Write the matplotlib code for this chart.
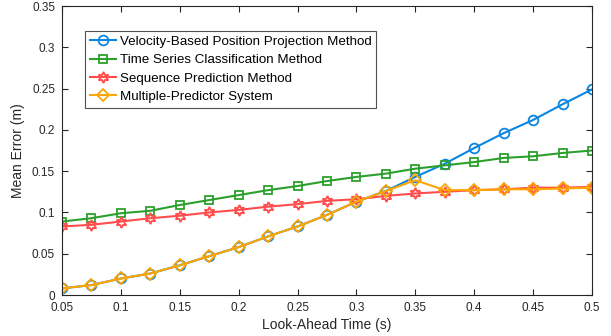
import matplotlib
matplotlib.use("Agg")
import matplotlib.pyplot as plt
import numpy as np

plt.rcParams['font.family'] = ['Liberation Sans', 'DejaVu Sans']

look_ahead = [0.05, 0.075, 0.1, 0.125, 0.15, 0.175, 0.2, 0.225, 0.25, 0.275,
              0.3, 0.325, 0.35, 0.375, 0.4, 0.425, 0.45, 0.475, 0.5]

velocity = [0.008, 0.012, 0.020, 0.026, 0.036, 0.047, 0.058, 0.071, 0.083, 0.097,
            0.113, 0.126, 0.143, 0.159, 0.178, 0.196, 0.212, 0.231, 0.249]
time_series = [0.089, 0.093, 0.099, 0.102, 0.109, 0.115, 0.121, 0.127, 0.132, 0.138,
               0.143, 0.147, 0.153, 0.157, 0.161, 0.166, 0.168, 0.172, 0.175]
sequence = [0.083, 0.085, 0.089, 0.093, 0.096, 0.100, 0.103, 0.107, 0.110, 0.114,
            0.116, 0.120, 0.123, 0.125, 0.127, 0.128, 0.130, 0.130, 0.131]
multi = [0.008, 0.012, 0.020, 0.026, 0.036, 0.047, 0.058, 0.071, 0.083, 0.097,
         0.113, 0.126, 0.139, 0.127, 0.127, 0.128, 0.128, 0.129, 0.130]

labels = ["Velocity-Based Position Projection Method",
          "Time Series Classification Method",
          "Sequence Prediction Method",
          "Multiple-Predictor System"]

fig = plt.figure(figsize=(6.11, 3.36), dpi=100)
L, R, T, B = 62, 592, 6, 295
ax = fig.add_axes([L/611, 1-B/336, (R-L)/611, (B-T)/336])

ax.plot(look_ahead, velocity, color='#0b86e0', lw=1.5, marker='o', ms=7,
        mfc='none', mew=1.3, label=labels[0])
ax.plot(look_ahead, time_series, color='#2ca02c', lw=1.5, marker='s', ms=6,
        mfc='none', mew=1.3, label=labels[1])
ax.plot(look_ahead, sequence, color='#ff4d4d', lw=1.5, marker=(6, 1, 0), ms=8,
        mfc='none', mew=1.3, label=labels[2])
ax.plot(look_ahead, multi, color='#ffa500', lw=1.5, marker='D', ms=6,
        mfc='none', mew=1.3, label=labels[3])

ax.set_xlim(0.05, 0.5)
ax.set_ylim(0, 0.35)
ax.set_xticks(np.arange(0.05, 0.501, 0.05))
ax.set_xticklabels(['0.05', '0.1', '0.15', '0.2', '0.25', '0.3', '0.35', '0.4', '0.45', '0.5'])
ax.set_yticks(np.arange(0, 0.351, 0.05))
ax.set_yticklabels(['0', '0.05', '0.1', '0.15', '0.2', '0.25', '0.3', '0.35'])
ax.tick_params(direction='in', top=True, right=True, labelsize=8.5, colors='#262626',
               length=4, width=0.8)
ax.tick_params(axis='x', pad=5)
ax.tick_params(axis='y', pad=5)
for s in ax.spines.values():
    s.set_color('#262626')
    s.set_linewidth(0.8)
ax.set_xlabel('Look-Ahead Time (s)', fontsize=10, color='#262626', labelpad=3)
ax.set_ylabel('Mean Error (m)', fontsize=10, color='#262626', labelpad=5)

leg = ax.legend(loc='upper left', bbox_to_anchor=((85-L)/(R-L), 1-(31-T)/(B-T)),
                fontsize=9.6, frameon=True, fancybox=False, edgecolor='#262626',
                handlelength=2.0, borderpad=0.35, labelspacing=0.45, handletextpad=0.25,
                borderaxespad=0, handleheight=0.7)
leg.get_frame().set_linewidth(0.8)

fig.savefig('out.png', dpi=100)
